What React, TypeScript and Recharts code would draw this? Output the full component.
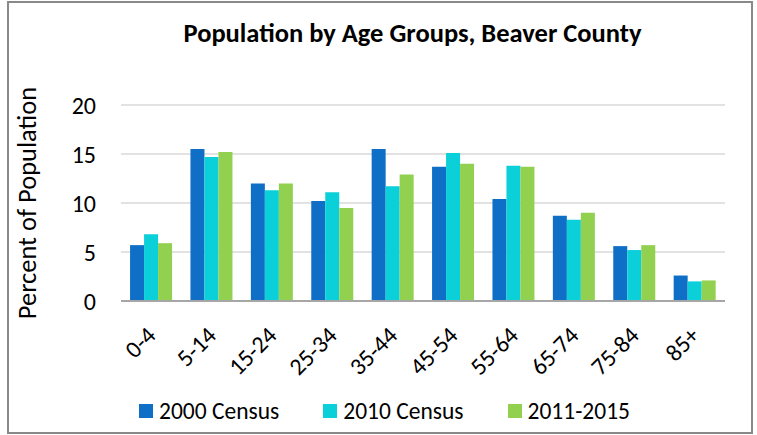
import { BarChart, Bar, XAxis, YAxis, CartesianGrid, Legend } from "recharts";

const AGE_GROUPS = ["0-4", "5-14", "15-24", "25-34", "35-44", "45-54", "55-64", "65-74", "75-84", "85+"];
const CENSUS_2000 = [5.7, 15.5, 12.0, 10.2, 15.5, 13.7, 10.4, 8.7, 5.6, 2.6];
const CENSUS_2010 = [6.8, 14.7, 11.3, 11.1, 11.7, 15.1, 13.8, 8.3, 5.2, 2.0];
const ACS_2011_2015 = [5.9, 15.2, 12.0, 9.5, 12.9, 14.0, 13.7, 9.0, 5.7, 2.1];
const Y_TICKS = [0, 5, 10, 15, 20];

const SERIES = [
  { key: "c2000", name: "2000 Census", color: "#0F6FC6" },
  { key: "c2010", name: "2010 Census", color: "#0BD0D9" },
  { key: "acs", name: "2011-2015", color: "#92D050" },
];

const FONT = "Carlito, Calibri, Lato, sans-serif";

const data = AGE_GROUPS.map((age, i) => ({
  age,
  c2000: CENSUS_2000[i],
  c2010: CENSUS_2010[i],
  acs: ACS_2011_2015[i],
}));

// rotated category labels, anchored at the end of the text
function AgeTick({ x, y, payload }: any) {
  const ax = x + 6;
  const ay = y + 28;
  return (
    <text
      x={ax}
      y={ay}
      transform={`rotate(-45, ${ax}, ${ay})`}
      textAnchor="end"
      fontSize={24}
      fontFamily={FONT}
      fill="#000"
    >
      {payload.value}
    </text>
  );
}

function LegendRow() {
  return (
    <div
      style={{
        display: "flex",
        justifyContent: "center",
        gap: 44,
        paddingLeft: 44,
        fontFamily: FONT,
        fontSize: 23.5,
      }}
    >
      {SERIES.map((s) => (
        <div key={s.key} style={{ display: "flex", alignItems: "center", gap: 6 }}>
          <span style={{ display: "inline-block", width: 14, height: 14, background: s.color }} />
          <span style={{ color: "#000" }}>{s.name}</span>
        </div>
      ))}
    </div>
  );
}

export default function App() {
  return (
    <div style={{ position: "absolute", left: 0, top: 0, width: 757, height: 435, background: "#fff" }}>
      <div
        style={{
          position: "absolute",
          left: 7,
          top: 1,
          width: 746,
          height: 433,
          border: "2px solid #898989",
          boxSizing: "border-box",
        }}
      />
      <div
        style={{
          position: "absolute",
          top: 17,
          left: 0,
          width: 825,
          textAlign: "center",
          fontFamily: FONT,
          fontWeight: 700,
          fontSize: 26.5,
          color: "#000",
        }}
      >
        Population by Age Groups, Beaver County
      </div>
      <div style={{ position: "absolute", left: 0, top: 0 }}>
        <BarChart
          width={757}
          height={435}
          data={data}
          margin={{ top: 105, right: 32, left: 0, bottom: 10 }}
          barCategoryGap="15%"
          barGap={0}
        >
          <CartesianGrid vertical={false} stroke="#d9d9d9" strokeWidth={1.5} />
          <XAxis
            dataKey="age"
            tick={<AgeTick />}
            tickLine={false}
            axisLine={{ stroke: "#a6a6a6", strokeWidth: 2 }}
            interval={0}
            height={96}
          />
          <YAxis
            domain={[0, 20]}
            ticks={Y_TICKS}
            width={121}
            tickLine={false}
            axisLine={false}
            tickMargin={19}
            tick={{ fontSize: 24, fontFamily: FONT, fill: "#000" }}
            label={{
              value: "Percent of Population",
              angle: -90,
              position: "insideLeft",
              offset: 27,
              style: { textAnchor: "middle", fontSize: 26.5, fontFamily: FONT, fill: "#000" },
            }}
          />
          <Legend verticalAlign="bottom" content={<LegendRow />} />
          {SERIES.map((s) => (
            <Bar key={s.key} dataKey={s.key} name={s.name} fill={s.color} isAnimationActive={false} />
          ))}
        </BarChart>
      </div>
    </div>
  );
}
